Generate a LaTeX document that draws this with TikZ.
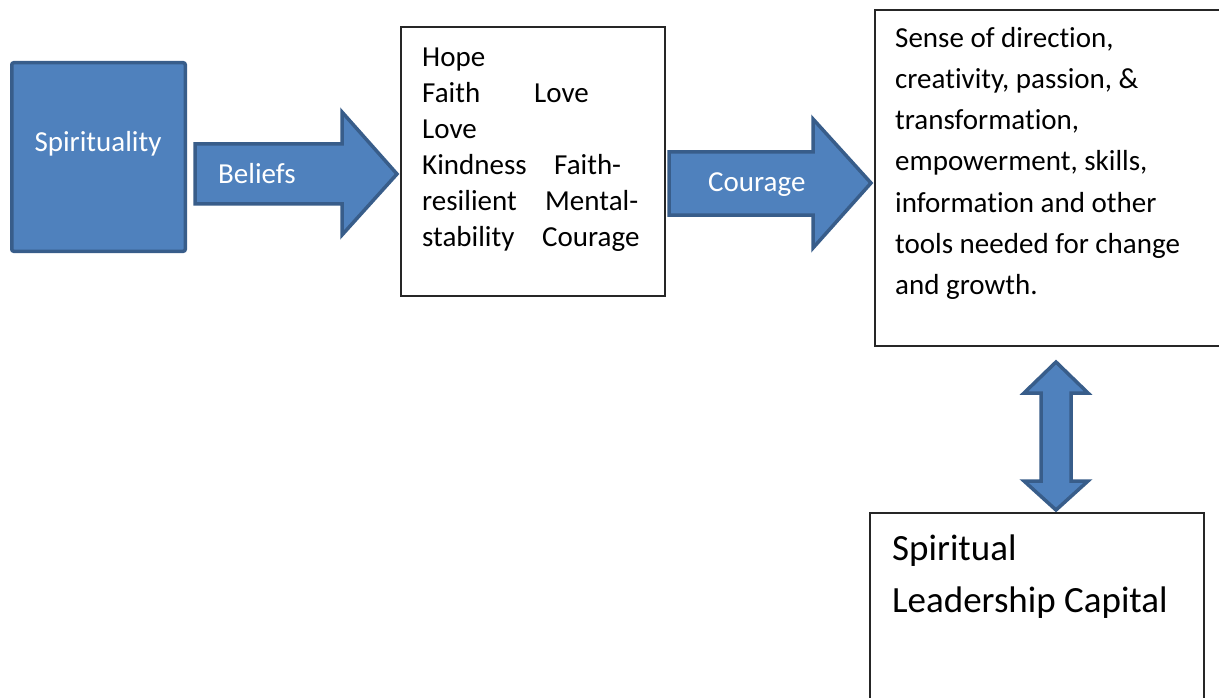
\documentclass[tikz,border=0pt]{standalone}
\usepackage{fontspec}
\setmainfont{Carlito}[Ligatures=NoCommon]
\definecolor{fillblue}{HTML}{4F81BD}
\definecolor{edgeblue}{HTML}{385D8A}
\begin{document}
\begin{tikzpicture}[x=1pt,y=-1pt,
  bluebox/.style={fill=fillblue, draw=edgeblue, line width=3.5pt, line join=miter},
  plainbox/.style={draw=black!85, line width=1.3pt},
  txt/.style={font=\fontsize{29}{35}\selectfont, inner sep=0pt, anchor=base west, text=black},
  wtxt/.style={font=\fontsize{29}{35}\selectfont, inner sep=0pt, anchor=base west, text=white},
  bigtxt/.style={font=\fontsize{37}{44}\selectfont, inner sep=0pt, anchor=base west, text=black}]
\useasboundingbox (0,0) rectangle (1219,698);
\clip (0,0) rectangle (1219,698);
\fill[white] (0,0) rectangle (1219,698);

% Spirituality box
\draw[bluebox, rounded corners=2pt] (11.75,62.75) rectangle (185.25,251.25);
\node[wtxt, anchor=base] (spir) at (98,152) {Spirituality};

% Beliefs arrow
\draw[bluebox] (195,144) -- (342,144) -- (342,112) -- (397,174) -- (342,235) -- (342,204) -- (195,204) -- cycle;
\node[wtxt] (beliefs) at (218,183) {Beliefs};

% Middle box
\draw[plainbox] (401,27) rectangle (665,296);
\node[txt] (t1) at (422,67) {Hope};
\node[txt] (t2) at (422,103) {Faith};
\node[txt] (t3) at (534,103) {Love};
\node[txt] (t4) at (422,139) {Love};
\node[txt] (t5) at (422,175) {Kindness};
\node[txt] (t6) at (554,175) {Faith-};
\node[txt] (t7) at (422,211) {resilient};
\node[txt] (t8) at (545,211) {Mental-};
\node[txt] (t9) at (422,247) {stability};
\node[txt] (t10) at (542,247) {Courage};

% Courage arrow
\draw[bluebox] (669,152) -- (813,152) -- (813,119) -- (871,183) -- (813,248) -- (813,215) -- (669,215) -- cycle;
\node[wtxt] (courage) at (708,192) {Courage};

% Right box
\draw[plainbox] (875,10) rectangle (1224,346);
\node[txt] (r1) at (895,48) {Sense of direction,};
\node[txt] (r2) at (895,89) {creativity, passion, \&};
\node[txt] (r3) at (895,130) {transformation,};
\node[txt] (r4) at (895,171) {empowerment, skills,};
\node[txt] (r5) at (895,212) {information and other};
\node[txt] (r6) at (895,253) {tools needed for change};
\node[txt] (r7) at (895,294) {and growth.};

% Double arrow
\draw[bluebox] (1056,362) -- (1088,393) -- (1071,393) -- (1071,481) -- (1088,481) -- (1056,510) -- (1024,481) -- (1041,481) -- (1041,393) -- (1024,393) -- cycle;

% Bottom box
\draw[plainbox] (870,513) rectangle (1204,704);
\node[bigtxt] (b1) at (892,560) {Spiritual};
\node[bigtxt] (b2) at (892,612) {Leadership Capital};
\end{tikzpicture}
\end{document}
